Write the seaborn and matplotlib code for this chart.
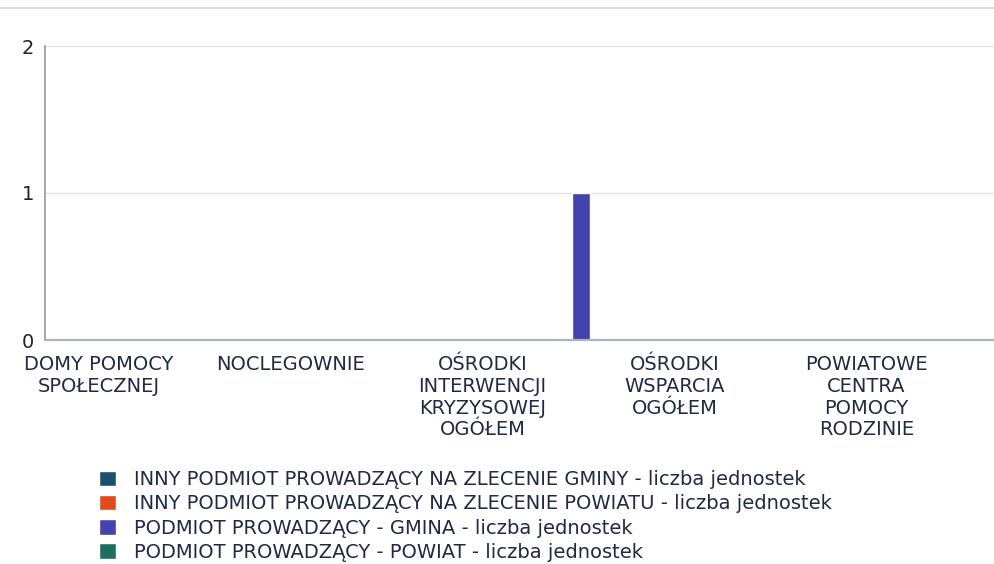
import matplotlib
matplotlib.use("Agg")
import matplotlib.pyplot as plt
from matplotlib.lines import Line2D
import seaborn as sns
import pandas as pd

# Categories (facility types) and the four series of unit counts
categories = [
    "DOMY POMOCY\nSPOŁECZNEJ",
    "NOCLEGOWNIE",
    "OŚRODKI\nINTERWENCJI\nKRYZYSOWEJ\nOGÓŁEM",
    "OŚRODKI\nWSPARCIA\nOGÓŁEM",
    "POWIATOWE\nCENTRA\nPOMOCY\nRODZINIE",
]
series_names = [
    "INNY PODMIOT PROWADZĄCY NA ZLECENIE GMINY - liczba jednostek",
    "INNY PODMIOT PROWADZĄCY NA ZLECENIE POWIATU - liczba jednostek",
    "PODMIOT PROWADZĄCY - GMINA - liczba jednostek",
    "PODMIOT PROWADZĄCY - POWIAT - liczba jednostek",
]
inny_gmina = [0, 0, 0, 0, 0]
inny_powiat = [0, 0, 0, 0, 0]
gmina = [0, 0, 1, 0, 0]
powiat = [0, 0, 0, 0, 0]
y_ticks = [0, 1, 2]

colors = ["#1d4f6e", "#e04a1c", "#4343ad", "#1e6e62"]
text_color = "#1f2a44"

rows = []
for name, vals in zip(series_names, [inny_gmina, inny_powiat, gmina, powiat]):
    for cat, v in zip(categories, vals):
        rows.append({"kategoria": cat, "seria": name, "liczba": v})
df = pd.DataFrame(rows)

sns.set_theme(style="white")
plt.rcParams["font.family"] = ["DejaVu Sans"]

fig = plt.figure(figsize=(9.94, 5.64), dpi=100)
ax = fig.add_axes([45 / 994, 1 - 340 / 564, 1 - 45 / 994, (340 - 46) / 564])

sns.barplot(
    data=df, x="kategoria", y="liczba", hue="seria",
    order=categories, hue_order=series_names, palette=colors,
    width=0.375, saturation=1, errorbar=None, ax=ax, legend=True,
)
handles, labels = ax.get_legend_handles_labels()
ax.get_legend().remove()

ax.set_xlim(-0.745, 4.198)
ax.set_ylim(0, 2)
ax.set_yticks(y_ticks)
ax.set_yticklabels([str(t) for t in y_ticks], fontsize=14, color="#222222")

# Category labels sit at the left side of each group
LABEL_SHIFT = -0.467
ax.set_xticks([i + LABEL_SHIFT for i in range(len(categories))])
ax.set_xticklabels(categories, fontsize=14, color=text_color, linespacing=1.18)
ax.tick_params(axis="x", length=0, pad=11)
ax.tick_params(axis="y", length=0, pad=8)
ax.set_xlabel("")
ax.set_ylabel("")

ax.grid(axis="y", color="#e4e4e4", linewidth=1)
ax.set_axisbelow(True)
for side in ["top", "right"]:
    ax.spines[side].set_visible(False)
ax.spines["left"].set_color("#9a9a9a")
ax.spines["left"].set_linewidth(1.2)
ax.spines["bottom"].set_color("#aab3c5")
ax.spines["bottom"].set_linewidth(1.6)

# Faint rule along the top edge
fig.add_artist(Line2D([0, 1], [1 - 8 / 564, 1 - 8 / 564], transform=fig.transFigure,
                      color="#dcdcdc", linewidth=1.5))

leg = ax.legend(
    handles, labels, loc="upper left",
    bbox_to_anchor=(99 / 994, 1 - 470 / 564), bbox_transform=fig.transFigure,
    frameon=False, fontsize=14, handlelength=0.85, handleheight=0.85,
    handletextpad=0.95, labelspacing=0.27, borderpad=0, borderaxespad=0,
)
for t in leg.get_texts():
    t.set_color(text_color)

fig.savefig("out.png", dpi=100)
